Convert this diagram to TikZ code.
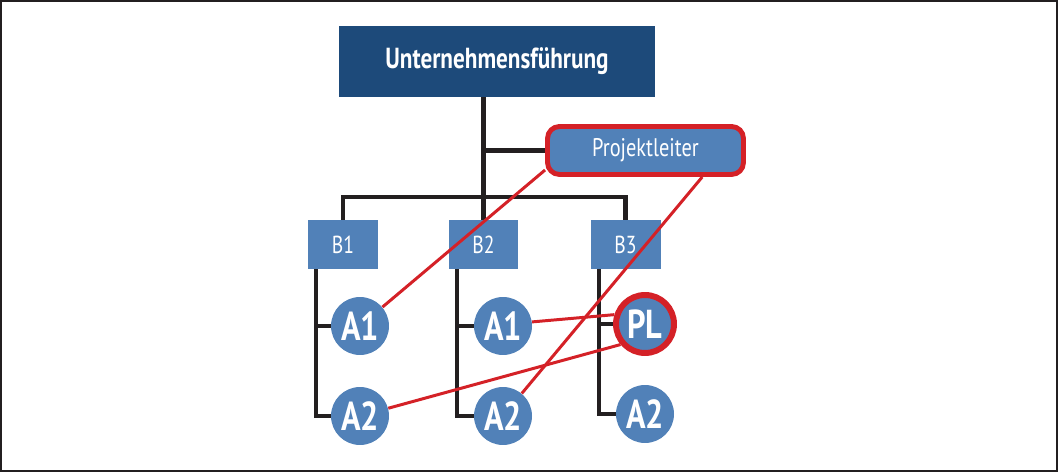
\documentclass[tikz,border=0pt]{standalone}
\usepackage{fontspec}
\setmainfont{PT Sans}
\newfontfamily\condfont[FakeStretch=0.8]{PT Sans}
\usetikzlibrary{calc}
\definecolor{headblue}{HTML}{1D4A7A}
\definecolor{unitblue}{HTML}{5181B8}
\definecolor{linkred}{HTML}{D42127}
\definecolor{treeblack}{HTML}{231F20}
\tikzset{
  headbox/.style={fill=headblue, text=white, minimum width=6.32cm, minimum height=1.42cm,
    inner sep=0pt, font=\condfont\fontsize{16.5}{18}\selectfont\bfseries},
  plbox/.style={draw=linkred, line width=2.8pt, fill=unitblue, rounded corners=0.24cm,
    minimum width=3.92cm, minimum height=0.96cm, inner sep=0pt, text=white,
    font=\condfont\fontsize{14.5}{16}\selectfont},
  unit/.style={fill=unitblue, minimum width=1.4cm, minimum height=0.98cm, inner sep=0pt,
    text=white, font=\condfont\fontsize{14}{16}\selectfont},
  member/.style={circle, fill=unitblue, minimum size=1.16cm, inner sep=0pt, text=white,
    font=\condfont\fontsize{23}{25}\selectfont\bfseries},
  leadmember/.style={member, draw=linkred, line width=3.4pt},
  tree/.style={draw=treeblack, line width=2.3pt},
  link/.style={draw=linkred, line width=1.7pt},
}
\begin{document}
\begin{tikzpicture}[x=0.02cm,y=-0.02cm]
  \useasboundingbox (0,0) rectangle (1058,472);
  \draw[treeblack, line width=1.1pt] (1,1) rectangle (1057,471);
  % top level
  \node[headbox] (ceo) at (497,61.5) {Unternehmensführung};
  \node[plbox] (pl) at (645.5,150.5) {Projektleiter};
  % departments
  \foreach \c/\x in {1/343,2/483.5,3/625.5}
    \node[unit] (b\c) at (\x,244.5) {B\c};
  % staff
  \node[member] (m11) at (360,326) {A1};
  \node[member] (m12) at (360,416) {A2};
  \node[member] (m21) at (503,326) {A1};
  \node[member] (m22) at (503,416) {A2};
  \node[leadmember] (m31) at (645,324) {PL};
  \node[member] (m32) at (645,414) {A2};
  % line organisation
  \coordinate (bus) at (0,197);
  \draw[tree] (b2.north) -- (b2.north |- ceo.south);
  \draw[tree] (pl.west) -- (pl.west -| b2.north);
  \draw[tree] (b1.north) -- (b1.north |- bus) -- (b3.north |- bus) -- (b3.north);
  \foreach \c in {1,2,3} {
    \draw[tree] ([xshift=0.17cm]b\c.south west) |- (m\c2.west);
    \draw[tree] ([xshift=0.17cm]b\c.south west |- m\c1.west) -- (m\c1.west);
  }
  % project links
  \draw[link] (pl.191) -- (m11);
  \draw[link] (pl.-25) -- (m22);
  \draw[link] (m21.8) -- (m31.163);
  \draw[link] (m12) -- (m31.220);
\end{tikzpicture}
\end{document}
